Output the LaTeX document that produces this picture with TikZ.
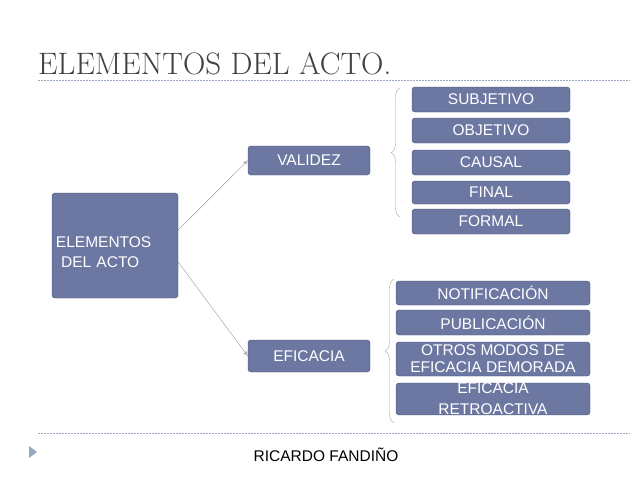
\documentclass[tikz,border=0pt]{standalone}
\usepackage{fontspec}
\setmainfont{Liberation Sans}
\newfontfamily\titlefont{Latin Modern Roman}
\usetikzlibrary{decorations.pathreplacing,arrows.meta}
\definecolor{boxfill}{HTML}{6C78A2}
\definecolor{boxline}{HTML}{414C72}
\definecolor{rulecol}{HTML}{9AA8C0}
\tikzset{
  itembox/.style={draw=boxline, fill=boxfill, rounded corners=3pt, text=white, align=center,
    inner sep=0pt, font=\fontsize{15.5}{17}\selectfont},
  linkarrow/.style={-{Stealth[length=5pt,width=4pt,open]}, draw=gray!80},
  bracket/.style={draw=gray!70, decorate, decoration={brace, amplitude=9pt}}
}
\begin{document}
\begin{tikzpicture}[x=1pt,y=-1pt]
  \useasboundingbox (0,0) rectangle (638,479);
  % titulo y reglas
  \node[anchor=base west, text=black!75, font=\titlefont\fontsize{31}{33}\selectfont, inner sep=0pt] (title) at (38,74) {ELEMENTOS DEL ACTO.};
  \draw[rulecol, dashed, dash pattern=on 1.5pt off 1.5pt] (38,80) -- (630,80);
  \draw[rulecol, dashed, dash pattern=on 1.5pt off 1.5pt] (38,433) -- (630,433);
  \fill[rulecol] (29,446) -- (37,452) -- (29,458) -- cycle;
  \node[font=\fontsize{15.5}{17}\selectfont] (autor) at (326,455) {RICARDO FANDIÑO};
  % cajas
  \node[itembox, minimum width=126, minimum height=105, align=left, text width=118, font=\fontsize{15.5}{20}\selectfont] (main) at (115,245.5) {\\[4pt]ELEMENTOS\\ \ DEL ACTO};
  \node[itembox, minimum width=122, minimum height=29] (validez) at (309,160.5) {VALIDEZ};
  \node[itembox, minimum width=122, minimum height=32] (eficacia) at (309,356) {EFICACIA};
  \node[itembox, minimum width=158, minimum height=25] (subj) at (491,99.5) {SUBJETIVO};
  \node[itembox, minimum width=158, minimum height=25] (obj) at (491,130.5) {OBJETIVO};
  \node[itembox, minimum width=158, minimum height=25] (causal) at (491,162.5) {CAUSAL};
  \node[itembox, minimum width=158, minimum height=23] (final) at (491,192.5) {FINAL};
  \node[itembox, minimum width=158, minimum height=25] (formal) at (491,221.5) {FORMAL};
  \node[itembox, minimum width=194, minimum height=24] (notif) at (493,293) {NOTIFICACIÓN};
  \node[itembox, minimum width=194, minimum height=25] (public) at (493,322.5) {PUBLICACIÓN};
  \node[itembox, minimum width=194, minimum height=34, font=\fontsize{15.5}{17}\selectfont] (otros) at (493,359) {OTROS MODOS DE\\EFICACIA DEMORADA};
  \node[itembox, minimum width=194, minimum height=30, font=\fontsize{15.5}{21}\selectfont] (retro) at (493,399) {EFICACIA\\RETROACTIVA};
  % flechas
  \draw[linkarrow] (main.east |- 0,230) -- (validez.west);
  \draw[linkarrow] (main.east |- 0,262) -- (eficacia.west);
  % llaves
  \draw[bracket] (400,217) -- (400,88);
  \draw[bracket] (394,423) -- (394,279);
\end{tikzpicture}
\end{document}
